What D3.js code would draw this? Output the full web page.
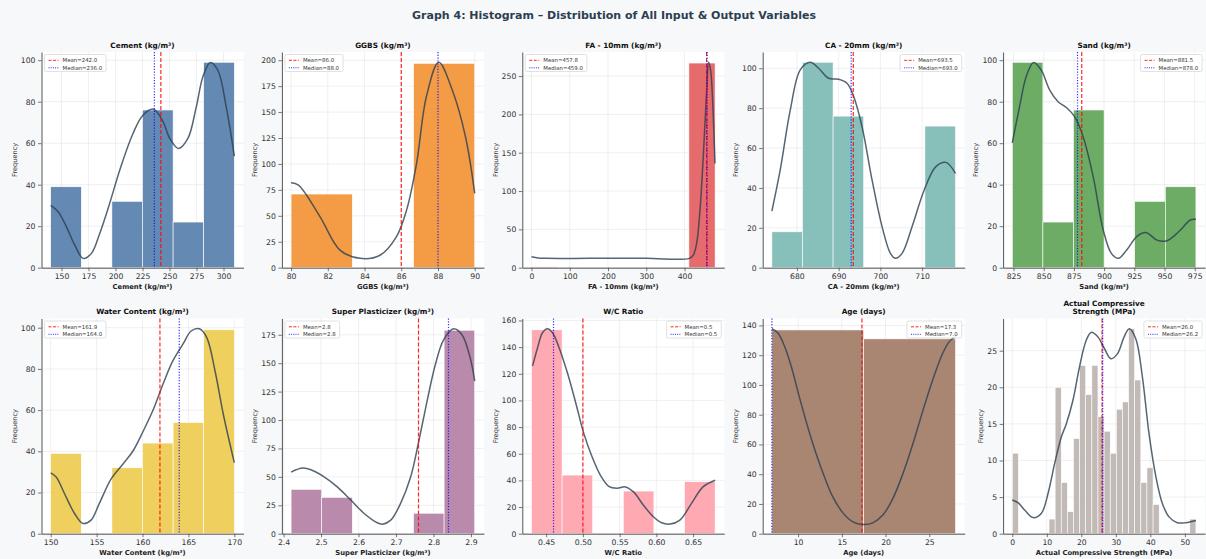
<!DOCTYPE html>
<html>
<head>
<meta charset="utf-8">
<script src="https://cdn.jsdelivr.net/npm/d3@7"></script>
<style>
  body { margin: 0; background: #f7f8fa; }
  svg { display: block; font-family: "DejaVu Sans", sans-serif; }
</style>
</head>
<body>
<svg id="chart" width="1206" height="559"></svg>
<script>
// values
const cementRange = [140, 310];
const cementCounts = [39, 0, 32, 76, 22, 99];
const cementStats = [242.0, 236.0];
const cementXTicks = [150, 175, 200, 225, 250, 275, 300];
const cementYTicks = [0, 20, 40, 60, 80, 100];
const cementKde = [[140, 30], [146.9, 27], [154.6, 19.7], [162.3, 10.9], [170, 4.5], [177.7, 6.9], [185.4, 16.5],
  [194.6, 31], [203.9, 47], [216.2, 64.7], [225.4, 73.5], [235.3, 76.4], [243.9, 70.5], [250.1, 62.5],
  [258.4, 57.5], [267, 62.3], [274.8, 77.5], [280.9, 92], [287.7, 98.9], [294.7, 95.2], [302.5, 77.5], [310, 53.8]];

const ggbsRange = [80, 90];
const ggbsCounts = [71, 0, 197];
const ggbsStats = [86.0, 88.0];
const ggbsXTicks = [80, 82, 84, 86, 88, 90];
const ggbsYTicks = [0, 25, 50, 75, 100, 125, 150, 175, 200];
const ggbsKde = [[80, 81.9], [80.4, 79.6], [81.58, 49], [82.66, 17], [83.75, 9], [84.84, 12], [85.74, 30],
  [86.29, 55.5], [86.83, 100], [87.37, 165], [88.04, 198], [88.8, 170], [89.5, 126], [90, 71.6]];

const faRange = [0, 480];
const faCounts = [1, 0, 0, 0, 0, 0, 267];
const faStats = [457.8, 459.0];
const faXTicks = [0, 100, 200, 300, 400];
const faYTicks = [0, 50, 100, 150, 200, 250];
const faKde = [[0, 14.3], [17.8, 12.6], [39.7, 12.2], [150, 12.2], [300, 12.2], [412.5, 12.2], [423, 16.5],
  [431.7, 31.7], [440.4, 75], [449, 144.5], [457.9, 231], [463, 268], [468.3, 257], [473.5, 218], [479.6, 136]];

const caRange = [674, 718];
const caCounts = [18, 103, 76, 0, 0, 71];
const caStats = [693.5, 693.0];
const caXTicks = [680, 690, 700, 710];
const caYTicks = [0, 20, 40, 60, 80, 100];
const caKde = [[674, 28.4], [676, 49], [678.4, 79], [680.8, 99.2], [683.2, 103], [685.2, 100], [687.6, 95],
  [690, 94.5], [692, 92.5], [693.6, 85.8], [695.6, 70.7], [698, 44], [700.4, 20.6], [702.4, 7.2], [703.6, 4.7],
  [705.2, 7.2], [707.6, 20.6], [710.5, 39], [713.3, 50.7], [715.7, 52.8], [718, 47.3]];

const sandRange = [824, 976];
const sandCounts = [99, 22, 76, 0, 32, 39];
const sandStats = [881.5, 878.0];
const sandXTicks = [825, 850, 875, 900, 925, 950, 975];
const sandYTicks = [0, 20, 40, 60, 80, 100];
const sandKde = [[824, 60.2], [830, 77.5], [835.5, 92], [841.6, 98.9], [848, 95.2], [855, 85.6], [861.9, 80],
  [868.8, 77.2], [875.7, 72.7], [882.7, 63], [891, 43.8], [899.3, 18.1], [906, 6.9], [911.8, 4.5], [918.7, 8.5],
  [927, 15], [934.8, 16.9], [943.7, 13.3], [952, 13], [961.7, 17.3], [971.4, 23], [976, 23.3]];

const waterRange = [150, 170];
const waterCounts = [39, 0, 32, 44, 54, 99];
const waterStats = [161.9, 164.0];
const waterXTicks = [150, 155, 160, 165, 170];
const waterYTicks = [0, 20, 40, 60, 80, 100];
const waterKde = [[150, 29.5], [150.6, 27.5], [151.5, 19.5], [152.6, 9.8], [153.5, 5], [154.4, 6.6], [155.3, 14.7],
  [156.6, 26.7], [157.9, 34], [159, 40.4], [160.1, 50], [161.2, 60.5], [162.3, 73.4], [163.3, 83.9], [164.4, 92],
  [165.3, 98.4], [166.2, 99.5], [167, 95.2], [167.9, 79], [168.8, 58], [170, 34.5]];

const spRange = [2.42, 2.91];
const spCounts = [39, 32, 0, 0, 18, 179];
const spStats = [2.76, 2.84];
const spXTicks = [2.4, 2.5, 2.6, 2.7, 2.8, 2.9];
const spYTicks = [0, 25, 50, 75, 100, 125, 150, 175];
const spKde = [[2.42, 54.2], [2.451, 57.7], [2.473, 56.2], [2.509, 49.8], [2.544, 41], [2.58, 29.4], [2.615, 17.8],
  [2.65, 9.6], [2.664, 8.4], [2.686, 11.9], [2.712, 26.5], [2.739, 49.8], [2.761, 81.8], [2.783, 116.8],
  [2.805, 148.8], [2.827, 170.6], [2.854, 180.3], [2.876, 175], [2.898, 154.6], [2.91, 134.2]];

const wcRange = [0.43, 0.68];
const wcCounts = [153, 44, 0, 32, 0, 39];
const wcStats = [0.50, 0.46];
const wcXTicks = [0.45, 0.50, 0.55, 0.60, 0.65];
const wcYTicks = [0, 20, 40, 60, 80, 100, 120, 140, 160];
const wcKde = [[0.4315, 125.9], [0.4383, 139.6], [0.445, 150.8], [0.4518, 153.8], [0.4586, 150.8], [0.4676, 139.6],
  [0.4788, 120.9], [0.4901, 98.5], [0.5014, 74.9], [0.5126, 57.5], [0.5239, 43.8], [0.5351, 35.6], [0.5464, 34.1],
  [0.5577, 35.1], [0.5689, 31.4], [0.5824, 21.4], [0.5959, 12.7], [0.6072, 8.2], [0.6185, 7.2], [0.632, 10.2],
  [0.6477, 22.6], [0.6635, 35.1], [0.68, 40.1]];

const ageRange = [7, 28];
const ageCounts = [137, 131];
const ageStats = [17.3, 7.0];
const ageXTicks = [10, 15, 20, 25];
const ageYTicks = [0, 20, 40, 60, 80, 100, 120, 140];
const ageKde = [[7, 137.8], [7.69, 134.9], [8.45, 126], [9.21, 112.6], [10.16, 91.5], [11.12, 71.4], [12.07, 53.6],
  [13.02, 38.1], [13.97, 24.7], [15.12, 14], [16.26, 8], [17.4, 6.2], [18.55, 7.3], [19.69, 12.5], [20.83, 23.6],
  [21.98, 40.3], [23.12, 60.3], [24.26, 82.6], [25.41, 103.7], [26.55, 121.5], [27.31, 129.3], [28, 132.7]];

const strengthRange = [0, 53.2];
const strengthCounts = [11, 0, 0, 0, 0, 0, 2, 20, 7, 3, 13, 23, 19, 23, 16, 14, 11, 17, 18, 28, 21, 7, 9, 4,
  0, 0, 0, 0, 0, 2];
const strengthStats = [26.0, 26.2];
const strengthXTicks = [0, 10, 20, 30, 40, 50];
const strengthYTicks = [0, 5, 10, 15, 20, 25];
const strengthKde = [[0, 4.6], [1.73, 4.2], [3.65, 3.2], [6.05, 2.2], [8.45, 2.8], [10.36, 5.5], [12.28, 9.6],
  [14.2, 13.2], [15.64, 15], [17.56, 18.2], [19.48, 22.8], [21.4, 26.4], [22.84, 27.5], [24.76, 26.9],
  [26.68, 25.3], [28.6, 23.9], [30.5, 24.6], [32.4, 26.9], [33.9, 28], [35.8, 26.6], [37.7, 21.4], [39.6, 13.7],
  [41.6, 7.8], [43.5, 4.1], [45.4, 2.3], [47.8, 1.5], [50.2, 1.5], [53.2, 1.8]];

const titles = ['Cement (kg/m³)', 'GGBS (kg/m³)', 'FA - 10mm (kg/m³)', 'CA - 20mm (kg/m³)', 'Sand (kg/m³)',
  'Water Content (kg/m³)', 'Super Plasticizer (kg/m³)', 'W/C Ratio', 'Age (days)', 'Actual Compressive Strength (MPa)'];
const colors = ['#4e79a7', '#f28e2b', '#e15759', '#76b7b2', '#59a14f', '#edc948', '#b07aa1', '#ff9da7', '#9c755f', '#bab0ac'];

const panels = [
  { range: cementRange, counts: cementCounts, stats: cementStats, xt: cementXTicks, yt: cementYTicks, kde: cementKde, fmt: 'd', legend: 'left' },
  { range: ggbsRange, counts: ggbsCounts, stats: ggbsStats, xt: ggbsXTicks, yt: ggbsYTicks, kde: ggbsKde, fmt: 'd', legend: 'left' },
  { range: faRange, counts: faCounts, stats: faStats, xt: faXTicks, yt: faYTicks, kde: faKde, fmt: 'd', legend: 'left' },
  { range: caRange, counts: caCounts, stats: caStats, xt: caXTicks, yt: caYTicks, kde: caKde, fmt: 'd', legend: 'right' },
  { range: sandRange, counts: sandCounts, stats: sandStats, xt: sandXTicks, yt: sandYTicks, kde: sandKde, fmt: 'd', legend: 'right' },
  { range: waterRange, counts: waterCounts, stats: waterStats, xt: waterXTicks, yt: waterYTicks, kde: waterKde, fmt: 'd', legend: 'left' },
  { range: spRange, counts: spCounts, stats: spStats, xt: spXTicks, yt: spYTicks, kde: spKde, fmt: '.1f', legend: 'left' },
  { range: wcRange, counts: wcCounts, stats: wcStats, xt: wcXTicks, yt: wcYTicks, kde: wcKde, fmt: '.2f', legend: 'right' },
  { range: ageRange, counts: ageCounts, stats: ageStats, xt: ageXTicks, yt: ageYTicks, kde: ageKde, fmt: 'd', legend: 'right' },
  { range: strengthRange, counts: strengthCounts, stats: strengthStats, xt: strengthXTicks, yt: strengthYTicks, kde: strengthKde, fmt: 'd', legend: 'right' }
];
panels.forEach((p, i) => { p.title = titles[i]; p.color = colors[i]; });

const svg = d3.select('#chart');
svg.append('rect').attr('width', 1206).attr('height', 559).attr('fill', '#f7f8fa');

svg.append('text')
  .attr('x', 614).attr('y', 18.5)
  .attr('text-anchor', 'middle')
  .style('font-size', '11px').style('font-weight', 'bold')
  .attr('fill', '#2c3e50')
  .text('Graph 4: Histogram – Distribution of All Input & Output Variables');

const W = 202;
const lefts = d3.range(5).map(i => 41.5 + i * 240.4);
const rows = [{ top: 52, bottom: 267.7 }, { top: 318.5, bottom: 533.7 }];
const f1 = d3.format('.1f');

panels.forEach((p, i) => {
  const x0 = lefts[i % 5];
  const row = rows[Math.floor(i / 5)];
  const [lo, hi] = p.range;
  const pad = (hi - lo) * 0.05;
  const x = d3.scaleLinear().domain([lo - pad, hi + pad]).range([x0, x0 + W]);
  const ymax = Math.max(d3.max(p.counts), d3.max(p.kde, d => d[1])) * 1.05;
  const y = d3.scaleLinear().domain([0, ymax]).range([row.bottom, row.top]);
  const n = p.counts.length;
  const bins = p.counts.map((c, k) => ({ x0: lo + k * (hi - lo) / n, x1: lo + (k + 1) * (hi - lo) / n, c }));

  const g = svg.append('g');
  g.append('rect')
    .attr('x', x0).attr('y', row.top)
    .attr('width', W).attr('height', row.bottom - row.top)
    .attr('fill', '#fff');

  // grid
  g.append('g').selectAll('line').data(p.xt).join('line')
    .attr('x1', d => x(d)).attr('x2', d => x(d))
    .attr('y1', row.top).attr('y2', row.bottom)
    .attr('stroke', '#dcdcdc').attr('stroke-width', 0.6).attr('stroke-opacity', 0.7);
  g.append('g').selectAll('line').data(p.yt).join('line')
    .attr('x1', x0).attr('x2', x0 + W)
    .attr('y1', d => y(d)).attr('y2', d => y(d))
    .attr('stroke', '#dcdcdc').attr('stroke-width', 0.6).attr('stroke-opacity', 0.7);

  // bars
  g.append('g').selectAll('rect').data(bins.filter(b => b.c > 0)).join('rect')
    .attr('x', b => x(b.x0)).attr('width', b => x(b.x1) - x(b.x0))
    .attr('y', b => y(b.c)).attr('height', b => y(0) - y(b.c))
    .attr('fill', p.color).attr('fill-opacity', 0.88)
    .attr('stroke', '#fff').attr('stroke-width', 0.6);

  // kde
  g.append('path')
    .datum(p.kde)
    .attr('d', d3.line().x(d => x(d[0])).y(d => y(d[1])).curve(d3.curveCatmullRom.alpha(0.5)))
    .attr('fill', 'none').attr('stroke', '#2c3e50').attr('stroke-opacity', 0.8).attr('stroke-width', 1.5);

  // mean / median
  g.append('line')
    .attr('x1', x(p.stats[0])).attr('x2', x(p.stats[0]))
    .attr('y1', row.top).attr('y2', row.bottom)
    .attr('stroke', 'red').attr('stroke-opacity', 0.85).attr('stroke-width', 1.2).attr('stroke-dasharray', '4,2');
  g.append('line')
    .attr('x1', x(p.stats[1])).attr('x2', x(p.stats[1]))
    .attr('y1', row.top).attr('y2', row.bottom)
    .attr('stroke', 'blue').attr('stroke-opacity', 0.8).attr('stroke-width', 1.2).attr('stroke-dasharray', '1.2,1.6');

  // axes
  const fmt = d3.format(p.fmt);
  const ax = g.append('g').attr('transform', `translate(0,${row.bottom})`)
    .call(d3.axisBottom(x).tickValues(p.xt).tickFormat(fmt).tickSize(3.5).tickSizeOuter(0).tickPadding(2.5));
  const ay = g.append('g').attr('transform', `translate(${x0},0)`)
    .call(d3.axisLeft(y).tickValues(p.yt).tickFormat(d3.format('d')).tickSize(3.5).tickSizeOuter(0).tickPadding(2.5));
  [ax, ay].forEach(a => {
    a.select('.domain').attr('stroke', '#555').attr('stroke-width', 1);
    a.selectAll('.tick line').attr('stroke', '#555').attr('stroke-width', 0.8);
    a.selectAll('.tick text').attr('fill', '#333').style('font-size', '7.7px').style('font-family', '"DejaVu Sans", sans-serif');
  });

  let maxW = 0;
  ay.selectAll('.tick text').each(function () { maxW = Math.max(maxW, this.getComputedTextLength()); });
  g.append('text')
    .attr('transform', `translate(${x0 - maxW - 10},${(row.top + row.bottom) / 2}) rotate(-90)`)
    .attr('text-anchor', 'middle')
    .style('font-size', '6.6px').attr('fill', '#333')
    .text('Frequency');

  g.append('text')
    .attr('x', x0 + W / 2).attr('y', row.bottom + 21.5)
    .attr('text-anchor', 'middle')
    .style('font-size', '6.8px').style('font-weight', 'bold').attr('fill', '#222')
    .text(p.title);

  const tl = i === 9 ? ['Actual Compressive', 'Strength (MPa)'] : [p.title];
  const tt = g.append('text')
    .attr('text-anchor', 'middle')
    .style('font-size', '7.3px').style('font-weight', 'bold').attr('fill', '#111');
  tl.forEach((s, k) => {
    tt.append('tspan')
      .attr('x', x0 + W / 2)
      .attr('y', row.top - 4.5 - (tl.length - 1 - k) * 8.4)
      .text(s);
  });

  // legend
  const lg = g.append('g');
  const box = lg.append('rect')
    .attr('fill', '#fff').attr('fill-opacity', 0.85)
    .attr('stroke', '#ccc').attr('stroke-width', 0.6).attr('rx', 1.5);
  const items = [
    { label: 'Mean=' + f1(p.stats[0]), stroke: 'red', dash: '3,1.5' },
    { label: 'Median=' + f1(p.stats[1]), stroke: 'blue', dash: '1,1.2' }
  ];
  let tw = 0;
  items.forEach((it, k) => {
    lg.append('line')
      .attr('x1', 4).attr('x2', 14).attr('y1', 5.8 + k * 7.5).attr('y2', 5.8 + k * 7.5)
      .attr('stroke', it.stroke).attr('stroke-opacity', 0.85).attr('stroke-width', 1).attr('stroke-dasharray', it.dash);
    const t = lg.append('text')
      .attr('x', 18).attr('y', 7.7 + k * 7.5)
      .style('font-size', '5.4px').attr('fill', '#333')
      .text(it.label);
    tw = Math.max(tw, t.node().getComputedTextLength());
  });
  const bw = tw + 22, bh = 17;
  box.attr('width', bw).attr('height', bh);
  const lx = p.legend === 'left' ? x0 + 3 : x0 + W - 3 - bw;
  lg.attr('transform', `translate(${lx},${row.top + 2.5})`);
});
</script>
</body>
</html>
